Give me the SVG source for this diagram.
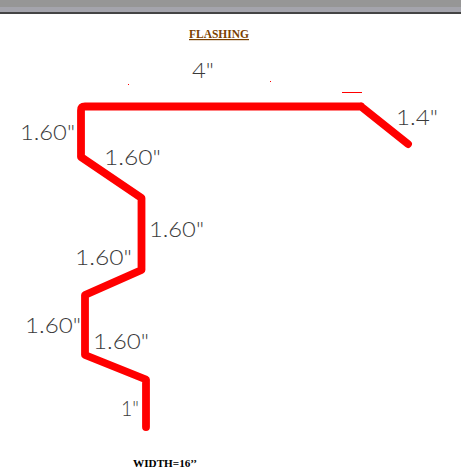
<svg xmlns="http://www.w3.org/2000/svg" width="461" height="472" viewBox="0 0 461 472">
<style>
.dim{font-family:"Lato","Open Sans","Liberation Sans",sans-serif;font-weight:300;font-size:21px;fill:#3a3a3a}
.ser{font-family:"Liberation Serif",serif;font-weight:700}
</style>
<rect width="461" height="472" fill="#fff"/>
<rect width="461" height="7" fill="#969696"/>
<rect y="7" width="461" height="5" fill="#a4a4ac"/>
<rect y="12" width="461" height="2" fill="#444"/>
<g id="connectors">
<path d="M361 106.500H85Q81 106.500 81 110.500V157L141.500 198V270L85 295V355L146 379.500V427M361 106.500L408 144" fill="none" stroke="#f00" stroke-width="7.800" stroke-linejoin="round" stroke-linecap="round"/>
<rect x="342" y="92" width="20" height="1" fill="#f00"/>
<rect x="128" y="84" width="1" height="1" fill="#f00"/>
<rect x="270" y="81" width="1" height="1" fill="#f00"/>
</g>
<text class="ser" x="189" y="38" font-size="12" fill="#7a4000" textLength="60" lengthAdjust="spacingAndGlyphs" text-decoration="underline">FLASHING</text>
<text class="dim" x="192" y="78" textLength="22" lengthAdjust="spacingAndGlyphs">4"</text>
<text class="dim" x="396" y="125" textLength="42" lengthAdjust="spacingAndGlyphs">1.4"</text>
<text class="dim" x="20" y="140" textLength="55" lengthAdjust="spacingAndGlyphs">1.60"</text>
<text class="dim" x="104" y="165" textLength="57" lengthAdjust="spacingAndGlyphs">1.60"</text>
<text class="dim" x="149" y="237" textLength="55" lengthAdjust="spacingAndGlyphs">1.60"</text>
<text class="dim" x="75" y="265" textLength="57" lengthAdjust="spacingAndGlyphs">1.60"</text>
<text class="dim" x="25" y="333" textLength="56" lengthAdjust="spacingAndGlyphs">1.60"</text>
<text class="dim" x="93" y="349" textLength="56" lengthAdjust="spacingAndGlyphs">1.60"</text>
<text class="dim" x="121" y="416" textLength="18" lengthAdjust="spacingAndGlyphs">1"</text>
<text class="ser" x="133" y="467" font-size="10.500" fill="#000" textLength="64" lengthAdjust="spacingAndGlyphs">WIDTH=16’’</text>
</svg>
